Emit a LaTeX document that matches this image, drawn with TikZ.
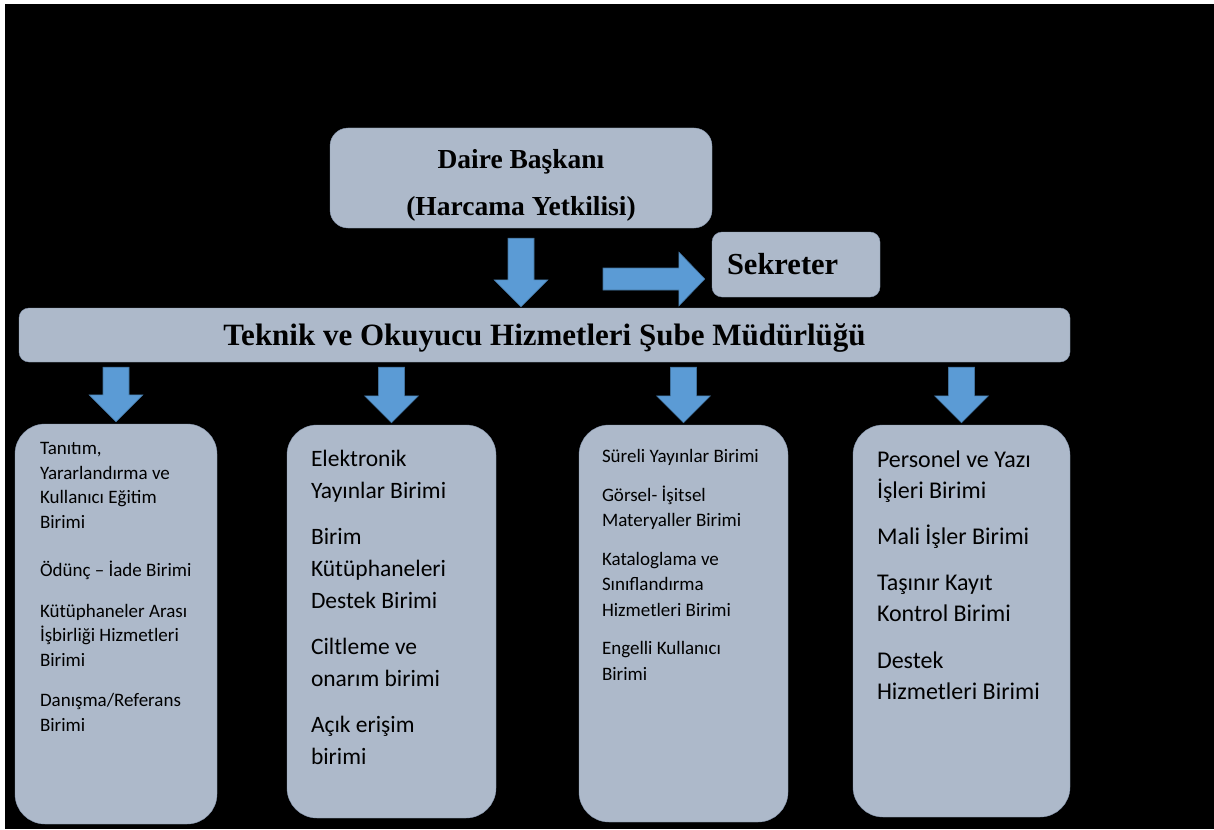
\documentclass[tikz,border=0pt]{standalone}
\usepackage{fontspec}
\setmainfont{Liberation Serif}
\newfontfamily\calibri{Carlito}
\usetikzlibrary{positioning,calc}

\definecolor{boxfill}{HTML}{ADB9CA}
\definecolor{boxedge}{HTML}{8A9AB2}
\definecolor{arrowfill}{HTML}{5B9BD5}
\definecolor{arrowedge}{HTML}{41719C}

\tikzset{
  headbox/.style={rectangle, rounded corners=18pt, fill=boxfill, draw=boxedge, thin, font=\bfseries},
  unitbox/.style={rectangle, rounded corners=30pt, fill=boxfill, draw=boxedge, thin, minimum width=205pt},
  unittext/.style={anchor=base west, inner sep=0pt},
  blockarrow/.style={fill=arrowfill, draw=arrowedge, line width=0.6pt}
}

% block arrow pointing down: #1 top point, #2 tip
\newcommand{\arrowdown}[2]{%
  \path[blockarrow] let \p1=#1, \p2=#2 in
    ({\x2-13pt},\y1) -- ({\x2+13pt},\y1) -- ({\x2+13pt},{\y2+27pt}) -- ({\x2+27pt},{\y2+27pt})
    -- (\x2,\y2) -- ({\x2-27pt},{\y2+27pt}) -- ({\x2-13pt},{\y2+27pt}) -- cycle;}
% block arrow pointing right: #1 start point, #2 tip
\newcommand{\arrowright}[2]{%
  \path[blockarrow] let \p1=#1, \p2=#2 in
    (\x1,{\y2+11pt}) -- ({\x2-26pt},{\y2+11pt}) -- ({\x2-26pt},{\y2+27pt}) -- (\x2,\y2)
    -- ({\x2-26pt},{\y2-27pt}) -- ({\x2-26pt},{\y2-11pt}) -- (\x1,{\y2-11pt}) -- cycle;}

\begin{document}
\begin{tikzpicture}[x=1pt, y=-1pt]
  \useasboundingbox (0,0) rectangle (1214,829);
  \fill[white] (0,0) rectangle (1214,829);
  \fill[black] (5,4) rectangle (1214,829);

  % top of the chart
  \node[headbox, minimum width=382pt, minimum height=100pt, align=center,
        font=\bfseries\fontsize{27.5}{47}\selectfont] (daire) at (521,178)
        {\raisebox{-7pt}[\height][\depth]{\parbox{370pt}{\centering Daire Başkanı\\(Harcama Yetkilisi)}}};
  \node[headbox, rounded corners=10pt, minimum width=168pt, minimum height=65pt,
        text width=138pt, inner xsep=15pt, align=left,
        font=\bfseries\fontsize{30.5}{36}\selectfont] (sekreter) at (796,264.5) {Sekreter};
  \node[headbox, rounded corners=10pt, minimum width=1051pt, minimum height=54pt,
        font=\bfseries\fontsize{31}{36}\selectfont] (sube) at (544.5,335)
        {\raisebox{-3pt}[\height][\depth]{Teknik ve Okuyucu Hizmetleri Şube Müdürlüğü}};

  \coordinate (secfrom) at (603,279);
  \arrowdown{($(daire.south)+(0,10)$)}{($(daire.south |- sube.north)+(0,-1)$)}
  \arrowright{(secfrom)}{($(secfrom -| sekreter.west)+(-7,0)$)}

  % units
  \node[unitbox, minimum width=202pt, minimum height=400pt] (unit1) at (116,624) {};
  \node[unitbox, minimum width=209pt, minimum height=393pt] (unit2) at (391.5,621.5) {};
  \node[unitbox, minimum width=209pt, minimum height=397pt] (unit3) at (683.5,623.5) {};
  \node[unitbox, minimum width=217pt, minimum height=392pt] (unit4) at (961.5,621) {};

  \foreach \u in {unit1,unit2,unit3,unit4}
    \arrowdown{($(sube.south -| \u.north)+(0,5)$)}{($(\u.north)+(0,-2)$)};

  \node[unittext, font=\calibri\fontsize{19}{24.5}\selectfont] (unit1 text)
    at ($(unit1.north west)+(25,31)$) {\parbox[t]{185pt}{\raggedright
    Tanıtım,\\
    Yararlandırma ve\\
    Kullanıcı Eğitim\\
    Birimi\\[24pt]
    Ödünç – İade Birimi\\[16pt]
    Kütüphaneler Arası\\
    İşbirliği Hizmetleri\\
    Birimi\\[16pt]
    Danışma/Referans\\
    Birimi}};
  \node[unittext, font=\calibri\fontsize{23.5}{32}\selectfont] (unit2 text)
    at ($(unit2.north west)+(24,42)$) {\parbox[t]{185pt}{\raggedright
    Elektronik\\
    Yayınlar Birimi\\[14pt]
    Birim\\
    Kütüphaneleri\\
    Destek Birimi\\[14pt]
    Ciltleme ve\\
    onarım birimi\\[14pt]
    Açık erişim\\
    birimi}};
  \node[unittext, font=\calibri\fontsize{19}{25.5}\selectfont] (unit3 text)
    at ($(unit3.north west)+(23,38)$) {\parbox[t]{185pt}{\raggedright
    Süreli Yayınlar Birimi\\[13pt]
    Görsel- İşitsel\\
    Materyaller Birimi\\[13pt]
    Kataloglama ve\\
    Sınıflandırma\\
    Hizmetleri Birimi\\[13pt]
    Engelli Kullanıcı\\
    Birimi}};
  \node[unittext, font=\calibri\fontsize{24}{31}\selectfont] (unit4 text)
    at ($(unit4.north west)+(24,43)$) {\parbox[t]{190pt}{\raggedright
    Personel ve Yazı\\
    İşleri Birimi\\[15pt]
    Mali İşler Birimi\\[15pt]
    Taşınır Kayıt\\
    Kontrol Birimi\\[16pt]
    Destek\\
    Hizmetleri Birimi}};
\end{tikzpicture}
\end{document}
